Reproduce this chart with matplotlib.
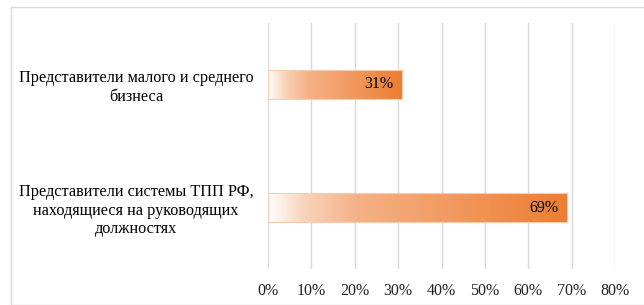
import matplotlib
matplotlib.use("Agg")
import matplotlib.pyplot as plt
import numpy as np
from matplotlib.colors import LinearSegmentedColormap
from matplotlib.patches import Rectangle

categories = ["Представители малого и среднего\nбизнеса",
              "Представители системы ТПП РФ,\nнаходящиеся на руководящих\nдолжностях"]
values = [31, 69]
value_labels = ["31%", "69%"]
xticks = [0, 10, 20, 30, 40, 50, 60, 70, 80]
xtick_labels = ["0%", "10%", "20%", "30%", "40%", "50%", "60%", "70%", "80%"]

plt.rcParams['font.family'] = ['Liberation Serif', 'DejaVu Serif']

fig = plt.figure(figsize=(6.44, 3.05), dpi=100)
# outer light border
fig.patches.append(Rectangle((11/644, 0), 1.0, 1 - 7/305, transform=fig.transFigure,
                             fill=False, edgecolor="#D9D9D9", linewidth=1.0))
ax = fig.add_axes([268/644, 1 - 269/305, (615 - 268)/644, (269 - 23)/305])

cmap = LinearSegmentedColormap.from_list(
    "og", [(0.0, "#FFFFFF"), (0.12, "#F9D3BA"), (0.3, "#F5B186"), (1.0, "#ED7D31")])

ypos = np.arange(len(categories))
bar_h = 0.23
for y, v, lab in zip(ypos, values, value_labels):
    grad = np.linspace(0, 1, 256).reshape(1, -1)
    ax.imshow(grad, cmap=cmap, aspect="auto", extent=(0, v, y + bar_h/2, y - bar_h/2),
              zorder=2, interpolation="bilinear")
    ax.add_patch(Rectangle((0, y - bar_h/2), v, bar_h, fill=False,
                           edgecolor="#F8CBAD", linewidth=0.8, zorder=3))
    ax.text(v - 2.1, y, lab, ha="right", va="center", fontsize=11.5, color="#000000", zorder=4)

ax.set_xlim(0, 80)
ax.set_ylim(1.5, -0.5)
ax.set_xticks(xticks)
ax.set_xticklabels(xtick_labels, fontsize=11.5, color="#222222")
ax.set_yticks(ypos)
ax.set_yticklabels(categories, fontsize=11.7, color="#000000", ha="center", multialignment="center")
ax.tick_params(axis="y", length=0, pad=0)
ax.tick_params(axis="x", length=0, pad=10)
for lbl in ax.get_yticklabels():
    lbl.set_x(-0.38)
ax.grid(axis="x", color="#D9D9D9", linewidth=1.0, zorder=0)
ax.set_axisbelow(True)
for s in ax.spines.values():
    s.set_visible(False)

fig.savefig("out.png", dpi=100)
